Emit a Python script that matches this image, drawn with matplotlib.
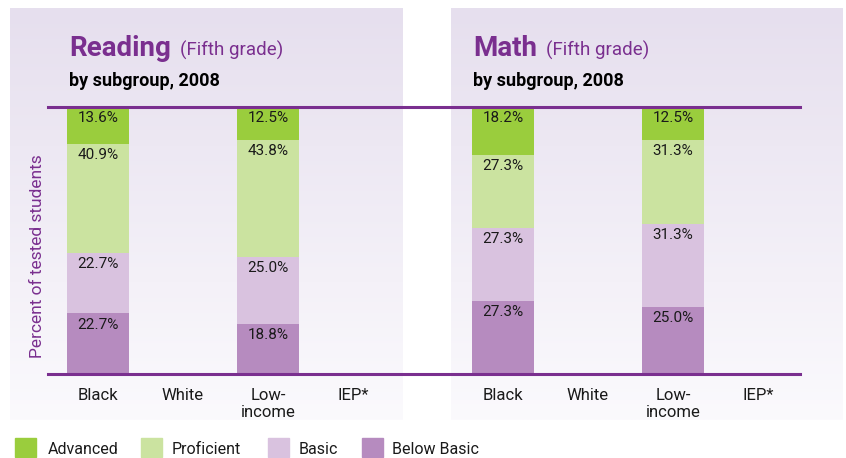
import numpy as np
import matplotlib
matplotlib.use("Agg")
import matplotlib.pyplot as plt
from matplotlib.lines import Line2D
from matplotlib.patches import Rectangle

plt.rcParams['font.family'] = ['Roboto', 'DejaVu Sans']

categories = ["Black", "White", "Low-\nincome", "IEP*"]
levels = ["Advanced", "Proficient", "Basic", "Below Basic"]
colors = {"Advanced": "#9acd3d", "Proficient": "#cbe3a0",
          "Basic": "#d9c2df", "Below Basic": "#b68bbf"}

# values per category (None = not reported)
reading_below = [22.7, None, 18.8, None]
reading_basic = [22.7, None, 25.0, None]
reading_prof = [40.9, None, 43.8, None]
reading_adv = [13.6, None, 12.5, None]

math_below = [27.3, None, 25.0, None]
math_basic = [27.3, None, 31.3, None]
math_prof = [27.3, None, 31.3, None]
math_adv = [18.2, None, 12.5, None]

W, H = 846, 458
fig = plt.figure(figsize=(W / 100, H / 100), dpi=100)
fig.patch.set_facecolor("white")

PURPLE = "#7a2f8f"

def fx(px):
    return px / W

def fy(py):
    return (H - py) / H

# background panels with gradient
bg = fig.add_axes([0, 0, 1, 1], zorder=-5)
bg.set_xlim(0, W)
bg.set_ylim(H, 0)
bg.axis("off")
top = np.array([230, 223, 238]) / 255
bot = np.array([251, 250, 253]) / 255
t = np.linspace(0, 1, 256)[:, None]
grad = top[None, :] * (1 - t) + bot[None, :] * t
grad = grad[:, None, :]
for x0, x1 in [(10, 403), (451, 843)]:
    bg.imshow(grad, extent=[x0, x1, 420, 8], aspect="auto", interpolation="bilinear")

ybot, ytop = 374, 107
unit = 85.0

def make_axes(center0, below, basic, prof, adv):
    left = center0 - 0.6 * unit
    right = center0 + 3.6 * unit
    ax = fig.add_axes([fx(left), fy(ybot), fx(right - left), fy(ytop) - fy(ybot)])
    ax.set_xlim(-0.6, 3.6)
    ax.set_ylim(0, 100)
    ax.patch.set_alpha(0)
    for s in ax.spines.values():
        s.set_visible(False)
    ax.set_yticks([])
    x = np.arange(len(categories))
    ax.set_xticks(x)
    ax.set_xticklabels(categories, fontsize=12, color="#1a1a1a", linespacing=1.2,
                       va="top")
    ax.tick_params(axis="x", length=0, pad=10)
    series = [("Below Basic", below), ("Basic", basic), ("Proficient", prof), ("Advanced", adv)]
    bottoms = np.zeros(len(categories))
    for name, vals in series:
        v = np.array([np.nan if a is None else a for a in vals], dtype=float)
        ok = ~np.isnan(v)
        ax.bar(x[ok], v[ok], bottom=bottoms[ok], width=0.73, color=colors[name],
               edgecolor="none")
        for xi, vi, bi in zip(x[ok], v[ok], bottoms[ok]):
            ax.annotate(f"{vi:.1f}%", (xi, bi + vi), xytext=(0, -3),
                        textcoords="offset points", ha="center", va="top",
                        fontsize=11, color="#1a1a1a")
        bottoms[ok] += v[ok]
    return ax

ax1 = make_axes(98, reading_below, reading_basic, reading_prof, reading_adv)
ax2 = make_axes(503, math_below, math_basic, math_prof, math_adv)

# horizontal rules
for yy in (ytop, ybot):
    fig.add_artist(Line2D([fx(48), fx(800)], [fy(yy), fy(yy)], color=PURPLE, lw=2.2))

# titles
def title(xpx, main):
    t1 = fig.text(fx(xpx), fy(56), main, fontsize=20, fontweight="bold",
                  color=PURPLE, ha="left", va="baseline")
    fig.canvas.draw()
    bb = t1.get_window_extent()
    fig.text(bb.x1 / W + fx(9), fy(56), "(Fifth grade)", fontsize=13.5,
             color=PURPLE, ha="left", va="baseline")
    fig.text(fx(xpx), fy(86), "by subgroup, 2008", fontsize=13, fontweight="bold",
             color="black", ha="left", va="baseline")

title(69, "Reading")
title(473, "Math")

fig.text(fx(38), fy(256), "Percent of tested students", rotation=90,
         fontsize=12.5, color=PURPLE, ha="center", va="center")

# legend
leg_x = [(15, 48), (141, 172), (268, 299), (362, 392)]
for (sx, tx), name in zip(leg_x, levels):
    bg.add_patch(Rectangle((sx, 438), 21, 19, color=colors[name]))
    bg.text(tx, 449, name, fontsize=11.5, color="#1a1a1a", ha="left", va="center")

fig.savefig("out.png", dpi=100)
